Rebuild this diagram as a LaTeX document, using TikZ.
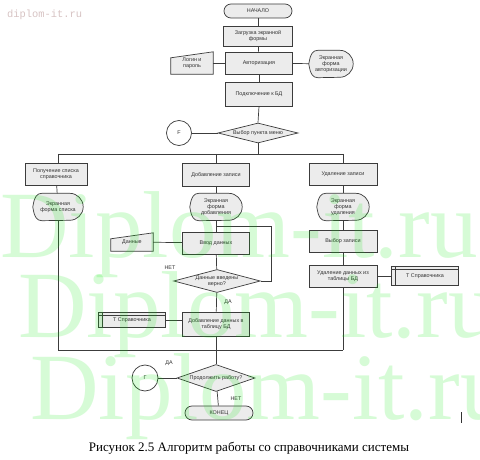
\documentclass[tikz,border=0pt]{standalone}
\usepackage{fontspec}
\setmainfont{Liberation Sans}
\newfontfamily\capfont{Liberation Serif}
\newfontfamily\wmono{Liberation Mono}
\usetikzlibrary{shapes.geometric}
\pgfdeclarelayer{bg}\pgfdeclarelayer{paper}\pgfsetlayers{paper,bg,main}
\definecolor{boxfill}{RGB}{236,236,236}
\definecolor{edge}{RGB}{60,60,60}
\definecolor{wm}{RGB}{0,235,0}
\definecolor{toptext}{RGB}{215,195,195}
\definecolor{txt}{RGB}{50,50,50}
\tikzset{
 every node/.style={font=\fontsize{5.4}{6.2}\selectfont, text=txt},
 shapeline/.style={draw=edge, line width=0.7pt, fill=boxfill},
 proc/.style={shapeline, rectangle, minimum width=67pt, minimum height=22pt, inner sep=1pt, align=center},
 term/.style={shapeline, rectangle, rounded corners=7pt, minimum width=68pt, minimum height=14pt, inner sep=1pt},
 decision/.style={shapeline, diamond, aspect=4, inner sep=0pt, align=center},
 conn/.style={draw=edge, line width=0.7pt, fill=white, circle, minimum size=25pt, inner sep=0pt},
 plainbox/.style={rectangle, inner sep=1pt, align=center},
 link/.style={draw=edge, line width=0.7pt},
 lbl/.style={inner sep=0pt},
}
\newcommand\dispbox[1]{\begin{pgfonlayer}{bg}\draw[shapeline] (#1.west) .. controls +(1.5,-10) and +(-5,0) .. ([xshift=9pt]#1.north west) -- ([xshift=-13.5pt]#1.north east) arc(-90:90:13.5) -- ([xshift=9pt]#1.south west) .. controls +(-5,0) and +(1.5,10) .. (#1.west) -- cycle;\end{pgfonlayer}}
\newcommand\manualbox[1]{\begin{pgfonlayer}{bg}\draw[shapeline] (#1.south west) -- ([yshift=-6pt]#1.north west) -- (#1.north east) -- (#1.south east) -- cycle;\end{pgfonlayer}}
\newcommand\storebox[1]{\draw[link] ([xshift=4pt]#1.north west) -- ([xshift=4pt]#1.south west) ([yshift=-3pt]#1.north west) -- ([yshift=-3pt]#1.north east);}
\begin{document}
\begin{tikzpicture}[x=1pt,y=-1pt]
\begin{pgfonlayer}{paper}
\fill[white] (0,0) rectangle (480,460);
\end{pgfonlayer}
\useasboundingbox (0,0) rectangle (480,460);
% top column
\node[term] (start) at (258,11) {НАЧАЛО};
\node[proc, minimum width=69pt, minimum height=20pt] (load) at (258,36) {Загрузка экранной\\формы};
\node[proc] (auth) at (259,63) {Авторизация};
\node[plainbox, minimum width=42pt, minimum height=22pt] (login) at (192,63) {Логин и\\пароль};
\manualbox{login}
\node[plainbox, minimum width=44pt, minimum height=27pt, inner sep=0pt] (authform) at (331,64) {Экранная\\форма\\авторизации};
\dispbox{authform}
\node[proc, minimum height=24pt] (db) at (259,94) {Подключение к БД};
\node[decision, minimum width=80pt, minimum height=20pt] (menu) at (258,133) {Выбор пункта меню};
\node[conn] (F1) at (179,133) {F};
\coordinate (bm) at (258,154);
\coordinate (bl) at (58,154);
\coordinate (bc) at (216,154);
\coordinate (br) at (343,154);
% left column
\node[proc, minimum width=62pt] (list) at (56,174) {Получение списка\\справочника};
\node[plainbox, minimum width=50pt, minimum height=27pt, inner sep=0pt] (listform) at (58,207) {Экранная\\форма списка};
\dispbox{listform}
% middle column
\node[proc, minimum height=23pt] (add) at (216,175) {Добавление записи};
\node[plainbox, minimum width=52pt, minimum height=27pt, inner sep=0pt] (addform) at (216,207) {Экранная\\форма\\добавления};
\dispbox{addform}
\node[proc] (input) at (216,243) {Ввод данных};
\node[plainbox, minimum width=42pt, minimum height=18pt] (data) at (132,242) {Данные};
\manualbox{data}
\node[decision, minimum width=80pt, minimum height=23pt] (check) at (217,281) {Данные введены\\верно?};
\node[proc, minimum height=24pt] (save) at (216,324) {Добавление данных в\\таблицу БД};
\node[proc, minimum height=15pt] (tref1) at (132,320) {Т Справочника};
\storebox{tref1}
% right column
\node[proc, minimum width=68pt] (del) at (343,174) {Удаление записи};
\node[plainbox, minimum width=52pt, minimum height=27pt, inner sep=0pt] (delform) at (343,207) {Экранная\\форма\\удаления};
\dispbox{delform}
\node[proc, minimum width=68pt] (sel) at (343,241) {Выбор записи};
\node[proc, minimum width=68pt] (deldb) at (343,276) {Удаление данных из\\таблицы БД};
\node[proc, minimum height=19pt] (tref2) at (425,276) {Т Справочника};
\storebox{tref2}
% bottom
\coordinate (ll) at (58,350);
\coordinate (lr) at (343,350);
\node[decision, minimum width=78pt, minimum height=27pt] (cont) at (216,378) {Продолжить работу?};
\node[conn, minimum size=26pt] (G2) at (145,378) {Г};
\node[term] (finish) at (219,413) {КОНЕЦ};
\coordinate (lp1) at (271,281);
\coordinate (lp2) at (271,226);
\coordinate (lp3) at (216,226);
% labels
\node[lbl] (no1) at (170,268) {НЕТ};
\node[lbl] (yes1) at (228,302) {ДА};
\node[lbl] (yes2) at (169,363) {ДА};
\node[lbl] (no2) at (236,399) {НЕТ};
% connectors
\draw[link] (start) -- (load);
\draw[link] (load) -- (auth);
\draw[link] (login) -- (auth);
\draw[link] (auth) -- (authform);
\draw[link] (auth) -- (db);
\draw[link] (db.south) -- (menu.north);
\draw[link] (F1) -- (menu);
\draw[link] (menu.south) -- (bm);
\draw[link] (bl) -- (br);
\draw[link] (bl) -- (bl |- list.north);
\draw[link] (bc) -- (add.north);
\draw[link] (br) -- (del.north);
\draw[link] (list) -- (listform);
\draw[link] (listform.south) -- (ll);
\draw[link] (ll) -- (lr);
\draw[link] (add) -- (addform);
\draw[link] (addform) -- (input);
\draw[link] (data) -- (input);
\draw[link] (input) -- (check);
\draw[link] (check.east) -- (lp1) -- (lp2) -- (lp3);
\draw[link] (check) -- (save);
\draw[link] (tref1.east) -- (tref1.east -| save.west);
\draw[link] (save) -- (cont);
\draw[link] (G2) -- (cont);
\draw[link] (cont) -- (finish);
\draw[link] (del) -- (delform);
\draw[link] (delform) -- (sel);
\draw[link] (sel) -- (deldb);
\draw[link] (deldb) -- (tref2);
\draw[link] (deldb.south) -- (lr);
% caption and marks
\node[font=\capfont\fontsize{13}{13}\selectfont, text=black] (cap) at (249,448) {Рисунок 2.5 Алгоритм работы со справочниками системы};
\node[font=\wmono\fontsize{10.4}{10.4}\selectfont, text=toptext, anchor=west, inner sep=0pt] (site) at (7,15) {diplom-it.ru};
\draw[line width=1pt, draw=black!80] (461,412) -- (461,423);
% watermark
\begin{scope}[every node/.style={font=\capfont\fontsize{95}{95}\selectfont, text=wm, text opacity=0.16, anchor=base west, inner sep=0pt}]
\node (wm1) at (0,257) {Diplom-it.ru};
\node (wm2) at (18,337) {Diplom-it.ru};
\node (wm3) at (30,419) {Diplom-it.ru};
\end{scope}
\end{tikzpicture}
\end{document}
